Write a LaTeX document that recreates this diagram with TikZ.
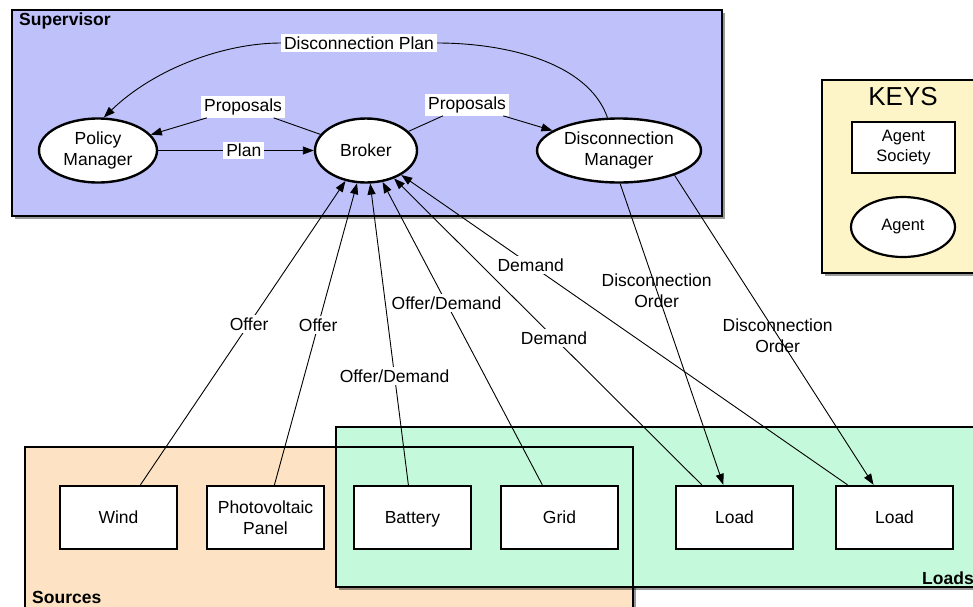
\documentclass[tikz,border=0pt]{standalone}
\usepackage{fontspec}
\setmainfont{Liberation Sans}
\usetikzlibrary{shapes.geometric,arrows.meta,shadows}

\definecolor{supfill}{RGB}{191,194,250}
\definecolor{keyfill}{RGB}{253,245,200}
\definecolor{srcfill}{RGB}{253,227,195}
\definecolor{loadfill}{RGB}{196,250,219}

\newcommand{\nodepth}[1]{\raisebox{0pt}[\height][0pt]{#1}}

\tikzset{
  society/.style={draw=black, line width=2.2pt},
  boxshadow/.style={drop shadow={shadow xshift=3pt, shadow yshift=-3pt, fill=black, opacity=0.4}},
  agentsoc/.style={rectangle, draw=black, line width=2.4pt, fill=white,
    minimum width=117pt, minimum height=63pt, inner sep=0pt, align=center},
  agent/.style={ellipse, draw=black, line width=2.4pt, fill=white,
    minimum height=64pt, inner sep=0pt, align=center},
  lbl/.style={fill=white, inner xsep=3pt, inner ysep=2.5pt},
  plainlbl/.style={align=center, inner sep=1pt},
  edge/.style={line width=0.9pt, -{Triangle[length=11pt,width=8pt]}},
  title/.style={font=\fontsize{17.5}{20}\selectfont\bfseries, inner sep=0pt},
}

\begin{document}
\begin{tikzpicture}[x=1pt, y=-1pt, font=\fontsize{17.5}{21}\selectfont]
\useasboundingbox (0,0) rectangle (973,606);

% agent societies (filled areas)
\path[fill=supfill, boxshadow] (12,10) rectangle (722,216);
\path[fill=keyfill, boxshadow] (822,80) rectangle (976,273);
\path[fill=srcfill, boxshadow] (25,447) rectangle (633,612);
\path[fill=loadfill, boxshadow] (336,427) rectangle (980,587);

% society borders
\draw[society] (12,10) rectangle (722,216);
\draw[society] (822,80) rectangle (976,273);
\draw[society] (25,447) rectangle (633,612);
\draw[society] (336,427) rectangle (980,587);

% society titles
\node[title, anchor=west] (suptitle) at (19,21) {Supervisor};
\node[title, anchor=west] (srctitle) at (32,597) {Sources};
\node[title, anchor=west] (loadtitle) at (922,578) {Loads};

% keys
\node[font=\fontsize{26}{28}\selectfont, inner sep=0pt] (keys) at (903,97) {KEYS};
\node[rectangle, draw=black, line width=2.2pt, fill=white, minimum width=103pt,
  minimum height=51pt, inner sep=0pt, align=center,
  font=\fontsize{16.5}{20}\selectfont] (keysoc) at (903.5,147.5) {Agent\\Society};
\node[ellipse, draw=black, line width=2.2pt, fill=white, minimum width=104pt,
  minimum height=60pt, inner sep=0pt, font=\fontsize{16.5}{20}\selectfont] (keyagent) at (903,227) {Agent};

% supervisor agents
\node[agent, minimum width=118pt] (pm) at (98,150.5) {Policy\\Manager};
\node[agent, minimum width=102pt] (broker) at (366,150.5) {Broker};
\node[agent, minimum width=164pt] (dm) at (619,150.5) {Disconnection\\Manager};

% sources and loads
\node[agentsoc] (wind) at (118.5,517.5) {Wind};
\node[agentsoc] (pv) at (265.5,517.5) {Photovoltaic\\Panel};
\node[agentsoc] (battery) at (412.5,517.5) {\nodepth{Battery}};
\node[agentsoc] (grid) at (559.5,517.5) {Grid};
\node[agentsoc] (load1) at (734.5,517.5) {Load};
\node[agentsoc] (load2) at (894.5,517.5) {Load};

% labels that break their connectors
\node[lbl] (dplan) at (359,43) {Disconnection Plan};
\node[lbl] (prop1) at (243,107) {Proposals};
\node[lbl] (prop2) at (467,105) {Proposals};

% connectors inside the supervisor
\draw[edge] (pm) -- node[lbl, pos=0.55] (planlbl) {Plan} (broker);
\draw[edge] (broker) -- (prop1) -- (pm);
\draw[edge] (broker) -- (prop2) -- (dm);
\draw[edge] (dm) .. controls (588,62) and (505,43) .. (dplan)
  .. controls (225,43) and (155,68) .. (pm.80);

% offers and demands towards the broker
\draw[edge] (wind) -- node[lbl, pos=0.53] {Offer} (broker);
\draw[edge] (pv) -- node[lbl, pos=0.53] {Offer} (broker);
\draw[edge] (battery) -- node[lbl, pos=0.36] {Offer/Demand} (broker);
\draw[edge] (grid) -- node[lbl, pos=0.6] {Offer/Demand} (broker);
\draw[edge] (load1) -- node[lbl, pos=0.48] {Demand} (broker);
\draw[edge] (load2) -- node[lbl, pos=0.71] {Demand} (broker);

% disconnection orders
\draw[edge] (dm.-88) -- node[plainlbl, pos=0.354] {Disconnection\\Order} (load1);
\draw[edge] (dm.-24) -- node[plainlbl, pos=0.518] {Disconnection\\Order} (load2);
\end{tikzpicture}
\end{document}
